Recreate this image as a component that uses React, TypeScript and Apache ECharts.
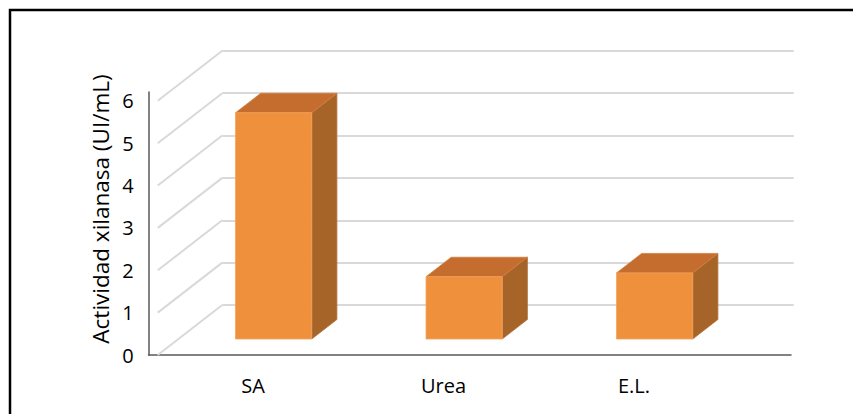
import { useEffect, useRef } from "react";
import * as echarts from "echarts";

// Xylanase activity per nitrogen source
const categories = ["SA", "Urea", "E.L."];
const actividad = [5.34, 1.47, 1.56];
const yTicks = [0, 1, 2, 3, 4, 5, 6];

// Oblique projection of the 3D floor (pixels from front edge to back wall)
const DEPTH_X = 64.5;
const DEPTH_Y = -50;
// Bars sit between these fractions of the floor depth
const BAR_FRONT = 0.32;
const BAR_BACK = 0.71;
const BAR_WIDTH = 0.4;

const FONT = "'Open Sans', 'Liberation Sans', sans-serif";
const FRONT_LEFT = 157.75;
const PLOT_W = 571.5;
const FRONT_BOTTOM = 355;
const FRONT_TOP = 100.8;
const W = 853;
const H = 414;

export default function App() {
  const ref = useRef<HTMLDivElement>(null);

  useEffect(() => {
    if (!ref.current) return;
    const chart = echarts.init(ref.current, undefined, { renderer: "svg" });

    const option: any = {
      animation: false,
      backgroundColor: "#ffffff",
      grid: [
        // front plane: category and value scales
        { left: FRONT_LEFT, width: PLOT_W, top: FRONT_TOP, bottom: H - FRONT_BOTTOM },
        // back wall
        {
          left: FRONT_LEFT + DEPTH_X,
          width: PLOT_W,
          top: FRONT_TOP + DEPTH_Y,
          bottom: H - FRONT_BOTTOM - DEPTH_Y,
        },
        // axis lines
        { left: 148.5, right: W - 791, top: 92, bottom: H - FRONT_BOTTOM },
      ],
      xAxis: [
        {
          type: "category",
          gridIndex: 0,
          data: categories,
          axisLine: { show: false },
          axisTick: { show: false },
          axisLabel: { fontSize: 20, color: "#000", fontFamily: FONT, margin: 20 },
        },
        {
          type: "category",
          gridIndex: 1,
          data: categories,
          show: false,
        },
        {
          type: "value",
          gridIndex: 2,
          min: 0,
          max: 1,
          axisLine: { show: true, lineStyle: { color: "#595959", width: 1.5 } },
          axisTick: { show: false },
          axisLabel: { show: false },
          splitLine: { show: false },
        },
      ],
      yAxis: [
        {
          type: "value",
          gridIndex: 0,
          min: 0,
          max: 6,
          interval: 1,
          axisLine: { show: false },
          axisTick: { show: false },
          splitLine: { show: false },
          axisLabel: { fontSize: 20, color: "#000", fontFamily: FONT, margin: 24 },
        },
        {
          type: "value",
          gridIndex: 1,
          min: 0,
          max: 6,
          interval: 1,
          axisLine: { show: false },
          axisTick: { show: false },
          axisLabel: { show: false },
          splitLine: { show: true, lineStyle: { color: "#d9d9d9", width: 2 } },
        },
        {
          type: "value",
          gridIndex: 2,
          min: 0,
          max: 1,
          axisLine: { show: true, lineStyle: { color: "#595959", width: 1.5 } },
          axisTick: { show: false },
          axisLabel: { show: false },
          splitLine: { show: false },
        },
      ],
      series: [
        {
          // side-wall gridlines running from the front edge to the back wall
          type: "custom",
          xAxisIndex: 0,
          yAxisIndex: 0,
          data: yTicks.map((v) => [0, v]),
          encode: { x: 0, y: 1 },
          silent: true,
          renderItem: (_params: any, api: any) => {
            const p = api.coord([0, api.value(1)]);
            const band = api.size([1, 0])[0];
            const x0 = p[0] - band / 2;
            return {
              type: "line",
              shape: { x1: x0, y1: p[1], x2: x0 + DEPTH_X, y2: p[1] + DEPTH_Y },
              style: { stroke: "#d9d9d9", lineWidth: 2 },
            };
          },
        },
        {
          // 3D boxes
          type: "custom",
          xAxisIndex: 0,
          yAxisIndex: 0,
          data: categories.map((_c, i) => [i, actividad[i]]),
          encode: { x: 0, y: 1 },
          renderItem: (_params: any, api: any) => {
            const i = api.value(0);
            const top = api.coord([i, api.value(1)]);
            const base = api.coord([i, 0]);
            const bw = api.size([1, 0])[0] * BAR_WIDTH;
            const fx = DEPTH_X * BAR_FRONT;
            const fy = DEPTH_Y * BAR_FRONT;
            const bx = DEPTH_X * BAR_BACK;
            const by = DEPTH_Y * BAR_BACK;
            const l = top[0] - bw / 2;
            const r = top[0] + bw / 2;
            const yt = top[1];
            const yb = base[1];
            const edge = { lineWidth: 0.8, lineJoin: "round" };
            return {
              type: "group",
              children: [
                {
                  type: "polygon",
                  shape: {
                    points: [
                      [r + fx, yt + fy],
                      [r + bx, yt + by],
                      [r + bx, yb + by],
                      [r + fx, yb + fy],
                    ],
                  },
                  style: { fill: "#a66428", stroke: "#b57038", ...edge },
                },
                {
                  type: "polygon",
                  shape: {
                    points: [
                      [l + fx, yt + fy],
                      [l + bx, yt + by],
                      [r + bx, yt + by],
                      [r + fx, yt + fy],
                    ],
                  },
                  style: { fill: "#c56d2e", stroke: "#d0803f", ...edge },
                },
                {
                  type: "rect",
                  shape: { x: l + fx, y: yt + fy, width: bw, height: yb - yt },
                  style: { fill: "#ef913c", stroke: "#f3a25c", ...edge },
                },
              ],
            };
          },
        },
      ],
      graphic: [
        {
          type: "text",
          x: 100,
          y: 209,
          rotation: Math.PI / 2,
          style: {
            text: "Actividad xilanasa (UI/mL)",
            fontSize: 22.5,
            fontFamily: FONT,
            fill: "#000",
            align: "center",
            verticalAlign: "middle",
          },
        },
        {
          type: "rect",
          shape: { x: 10, y: 10, width: 1000, height: 1000 },
          style: { fill: "none", stroke: "#000", lineWidth: 2.5 },
          silent: true,
        },
      ],
    };

    chart.setOption(option);
    return () => chart.dispose();
  }, []);

  return (
    <div
      ref={ref}
      style={{ position: "fixed", left: 0, top: 0, width: W, height: H }}
    />
  );
}
